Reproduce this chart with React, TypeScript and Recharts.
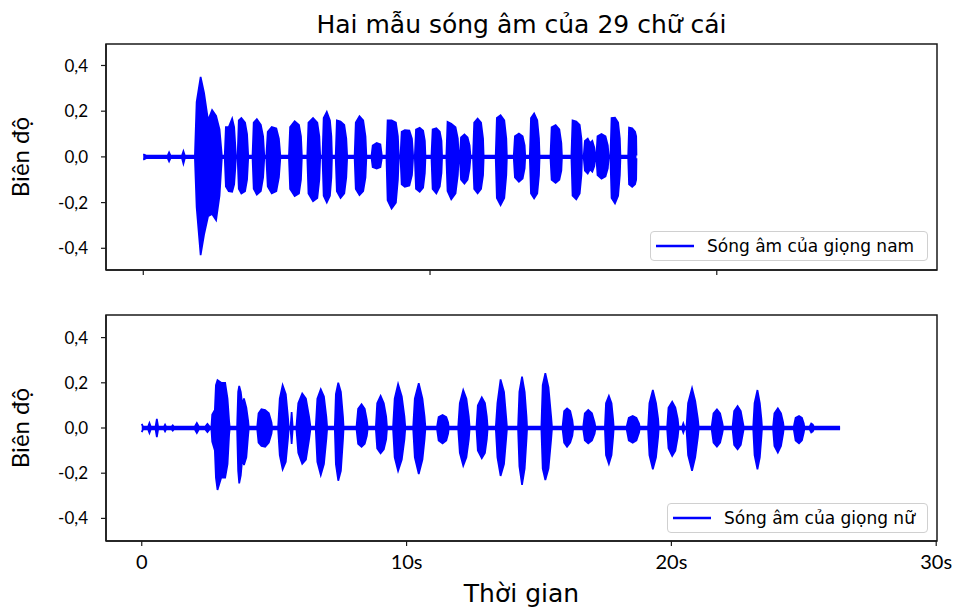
import React from 'react';
import { ComposedChart, Area, XAxis, YAxis, Legend, ReferenceArea } from 'recharts';

const chartTitle = 'Hai mẫu sóng âm của 29 chữ cái';
const yAxisTitle = 'Biên độ';
const xAxisTitle = 'Thời gian';
const maleName = 'Sóng âm của giọng nam';
const femaleName = 'Sóng âm của giọng nữ';

const yTickValues = [-0.4, -0.2, 0, 0.2, 0.4];
const yTickLabels = ['-0,4', '-0,2', '0,0', '0,2', '0,4'];
const maleXTicks = [0, 10, 20];
const femaleXTicks = [0, 10, 20, 30];
const femaleXTickLabels = ['0', '10s', '20s', '30s'];

// [time (s), upper envelope, lower envelope]
const maleWave: [number, number, number][] = [
  [0.0, 0.012, -0.012], [0.1, 0.006, -0.006],
  [0.85, 0.006, -0.006], [0.9, 0.02, -0.02], [0.95, 0.006, -0.006],
  [1.35, 0.006, -0.006], [1.4, 0.025, -0.03], [1.45, 0.006, -0.006],
  [1.8, 0.006, -0.006], [1.86, 0.24, -0.22], [2.0, 0.35, -0.43], [2.12, 0.28, -0.34], [2.26, 0.16, -0.26],
  [2.4, 0.205, -0.25], [2.54, 0.18, -0.277], [2.66, 0.12, -0.17], [2.74, 0.006, -0.006],
  [2.84, 0.006, -0.006], [2.88, 0.13, -0.13], [2.98, 0.13, -0.15], [3.1, 0.168, -0.153], [3.17, 0.13, -0.12], [3.21, 0.05, -0.05], [3.23, 0.006, -0.006],
  [3.29, 0.006, -0.006], [3.33, 0.16, -0.14], [3.42, 0.17, -0.16], [3.55, 0.15, -0.15], [3.62, 0.1, -0.1], [3.66, 0.006, -0.006],
  [3.81, 0.006, -0.006], [3.85, 0.15, -0.14], [3.96, 0.165, -0.165], [4.1, 0.14, -0.15], [4.18, 0.09, -0.09], [4.22, 0.006, -0.006],
  [4.29, 0.006, -0.006], [4.34, 0.11, -0.13], [4.48, 0.131, -0.16], [4.64, 0.125, -0.15], [4.73, 0.08, -0.09], [4.78, 0.006, -0.006],
  [5.08, 0.006, -0.006], [5.12, 0.13, -0.14], [5.28, 0.156, -0.172], [5.43, 0.14, -0.16], [5.5, 0.09, -0.1], [5.53, 0.006, -0.006],
  [5.72, 0.006, -0.006], [5.76, 0.15, -0.16], [5.92, 0.17, -0.194], [6.07, 0.15, -0.18], [6.14, 0.09, -0.1], [6.17, 0.006, -0.006],
  [6.25, 0.006, -0.006], [6.29, 0.17, -0.17], [6.4, 0.197, -0.2], [6.51, 0.16, -0.17], [6.56, 0.09, -0.09], [6.58, 0.006, -0.006],
  [6.71, 0.006, -0.006], [6.75, 0.16, -0.15], [6.88, 0.155, -0.18], [7.01, 0.14, -0.16], [7.08, 0.08, -0.09], [7.11, 0.006, -0.006],
  [7.37, 0.006, -0.006], [7.41, 0.15, -0.14], [7.54, 0.178, -0.167], [7.67, 0.16, -0.15], [7.75, 0.09, -0.09], [7.78, 0.006, -0.006],
  [7.96, 0.006, -0.006], [8.0, 0.05, -0.045], [8.14, 0.061, -0.051], [8.27, 0.055, -0.045], [8.32, 0.006, -0.006],
  [8.48, 0.006, -0.006], [8.52, 0.16, -0.19], [8.66, 0.16, -0.226], [8.81, 0.15, -0.2], [8.88, 0.09, -0.1], [8.91, 0.006, -0.006],
  [8.97, 0.006, -0.006], [9.01, 0.11, -0.12], [9.12, 0.117, -0.131], [9.28, 0.115, -0.125], [9.37, 0.08, -0.08], [9.41, 0.006, -0.006],
  [9.47, 0.006, -0.006], [9.51, 0.12, -0.14], [9.64, 0.128, -0.153], [9.76, 0.115, -0.135], [9.82, 0.07, -0.07], [9.84, 0.006, -0.006],
  [10.05, 0.006, -0.006], [10.09, 0.12, -0.14], [10.22, 0.125, -0.16], [10.34, 0.11, -0.13], [10.4, 0.07, -0.07], [10.42, 0.006, -0.006],
  [10.57, 0.006, -0.006], [10.61, 0.153, -0.15], [10.74, 0.145, -0.186], [10.89, 0.13, -0.16], [10.97, 0.08, -0.08], [11.0, 0.006, -0.006],
  [11.04, 0.006, -0.006], [11.08, 0.085, -0.1], [11.2, 0.098, -0.117], [11.31, 0.085, -0.1], [11.38, 0.05, -0.05], [11.41, 0.006, -0.006],
  [11.5, 0.006, -0.006], [11.54, 0.15, -0.14], [11.66, 0.168, -0.16], [11.78, 0.15, -0.14], [11.85, 0.08, -0.08], [11.87, 0.006, -0.006],
  [12.29, 0.006, -0.006], [12.33, 0.17, -0.18], [12.46, 0.182, -0.211], [12.59, 0.16, -0.18], [12.66, 0.08, -0.08], [12.68, 0.006, -0.006],
  [12.92, 0.006, -0.006], [12.96, 0.09, -0.09], [13.1, 0.102, -0.109], [13.23, 0.09, -0.095], [13.3, 0.05, -0.05], [13.32, 0.006, -0.006],
  [13.48, 0.006, -0.006], [13.52, 0.17, -0.16], [13.63, 0.19, -0.182], [13.74, 0.16, -0.16], [13.8, 0.08, -0.08], [13.82, 0.006, -0.006],
  [14.2, 0.006, -0.006], [14.24, 0.13, -0.1], [14.38, 0.139, -0.114], [14.51, 0.12, -0.1], [14.58, 0.06, -0.06], [14.6, 0.006, -0.006],
  [14.93, 0.006, -0.006], [14.97, 0.16, -0.17], [15.1, 0.155, -0.186], [15.22, 0.14, -0.16], [15.28, 0.08, -0.08], [15.3, 0.006, -0.006],
  [15.36, 0.006, -0.006], [15.4, 0.07, -0.06], [15.5, 0.08, -0.073], [15.58, 0.06, -0.055], [15.66, 0.07, -0.065], [15.73, 0.04, -0.04], [15.76, 0.006, -0.006],
  [15.8, 0.006, -0.006], [15.84, 0.09, -0.08], [15.98, 0.1, -0.095], [16.12, 0.09, -0.085], [16.2, 0.05, -0.05], [16.23, 0.006, -0.006],
  [16.29, 0.006, -0.006], [16.33, 0.17, -0.18], [16.45, 0.172, -0.204], [16.56, 0.15, -0.17], [16.62, 0.08, -0.08], [16.64, 0.006, -0.006],
  [16.91, 0.006, -0.006], [16.94, 0.128, -0.12], [17.05, 0.125, -0.131], [17.15, 0.11, -0.12], [17.19, 0.09, -0.1], [17.2, 0.006, -0.006],
];

const femaleWave: [number, number, number][] = [
  [0.0, 0.018, -0.018], [0.05, 0.006, -0.006],
  [0.24, 0.006, -0.006], [0.29, 0.022, -0.022], [0.34, 0.006, -0.006],
  [0.52, 0.006, -0.006], [0.57, 0.04, -0.04], [0.62, 0.006, -0.006],
  [0.84, 0.006, -0.006], [0.88, 0.015, -0.015], [0.92, 0.006, -0.006],
  [1.13, 0.006, -0.006], [1.17, 0.012, -0.012], [1.21, 0.006, -0.006],
  [2.0, 0.006, -0.006], [2.08, 0.022, -0.022], [2.16, 0.006, -0.006],
  [2.4, 0.006, -0.006], [2.48, 0.018, -0.018], [2.56, 0.006, -0.006],
  [2.63, 0.006, -0.006], [2.66, 0.06, -0.06], [2.76, 0.08, -0.1], [2.8, 0.19, -0.22], [2.86, 0.212, -0.274],
  [3.0, 0.2, -0.22], [3.15, 0.2, -0.22], [3.24, 0.13, -0.16], [3.3, 0.03, -0.03], [3.32, 0.006, -0.006],
  [3.6, 0.006, -0.006], [3.64, 0.16, -0.19], [3.68, 0.186, -0.245], [3.74, 0.16, -0.21], [3.8, 0.1, -0.13],
  [3.86, 0.131, -0.164], [3.95, 0.09, -0.13], [4.02, 0.03, -0.03], [4.04, 0.006, -0.006],
  [4.36, 0.006, -0.006], [4.41, 0.065, -0.065], [4.52, 0.083, -0.08], [4.66, 0.08, -0.083], [4.8, 0.065, -0.065], [4.9, 0.025, -0.025], [4.92, 0.006, -0.006],
  [5.15, 0.006, -0.006], [5.21, 0.13, -0.12], [5.32, 0.19, -0.183], [5.44, 0.15, -0.15], [5.52, 0.05, -0.05], [5.55, 0.006, -0.006],
  [5.62, 0.006, -0.006], [5.66, 0.07, -0.07], [5.7, 0.006, -0.006],
  [5.84, 0.006, -0.006], [5.91, 0.11, -0.11], [6.06, 0.153, -0.159], [6.2, 0.13, -0.14], [6.32, 0.05, -0.05], [6.37, 0.006, -0.006],
  [6.57, 0.006, -0.006], [6.63, 0.13, -0.15], [6.76, 0.171, -0.208], [6.88, 0.14, -0.16], [6.97, 0.05, -0.05], [7.0, 0.006, -0.006],
  [7.29, 0.006, -0.006], [7.33, 0.15, -0.16], [7.42, 0.2, -0.233], [7.52, 0.16, -0.19], [7.6, 0.05, -0.05], [7.62, 0.006, -0.006],
  [8.11, 0.006, -0.006], [8.17, 0.085, -0.07], [8.3, 0.105, -0.083], [8.42, 0.085, -0.07], [8.5, 0.035, -0.035], [8.53, 0.006, -0.006],
  [8.84, 0.006, -0.006], [8.89, 0.11, -0.09], [9.02, 0.142, -0.112], [9.14, 0.11, -0.095], [9.23, 0.05, -0.05], [9.26, 0.006, -0.006],
  [9.49, 0.006, -0.006], [9.55, 0.13, -0.13], [9.68, 0.195, -0.19], [9.82, 0.14, -0.14], [9.92, 0.05, -0.05], [9.95, 0.006, -0.006],
  [10.25, 0.006, -0.006], [10.31, 0.13, -0.13], [10.46, 0.198, -0.204], [10.6, 0.13, -0.14], [10.68, 0.05, -0.05], [10.71, 0.006, -0.006],
  [11.15, 0.006, -0.006], [11.21, 0.048, -0.055], [11.36, 0.058, -0.068], [11.5, 0.048, -0.055], [11.57, 0.025, -0.025], [11.59, 0.006, -0.006],
  [11.95, 0.006, -0.006], [12.01, 0.11, -0.11], [12.14, 0.168, -0.167], [12.26, 0.13, -0.13], [12.35, 0.05, -0.05], [12.38, 0.006, -0.006],
  [12.64, 0.006, -0.006], [12.69, 0.1, -0.1], [12.84, 0.136, -0.134], [12.96, 0.11, -0.11], [13.03, 0.05, -0.05], [13.06, 0.006, -0.006],
  [13.37, 0.006, -0.006], [13.43, 0.11, -0.13], [13.55, 0.215, -0.212], [13.68, 0.16, -0.16], [13.76, 0.05, -0.05], [13.79, 0.006, -0.006],
  [14.21, 0.006, -0.006], [14.26, 0.16, -0.17], [14.36, 0.227, -0.252], [14.46, 0.16, -0.18], [14.53, 0.05, -0.05], [14.55, 0.006, -0.006],
  [15.09, 0.006, -0.006], [15.14, 0.19, -0.18], [15.24, 0.242, -0.23], [15.36, 0.18, -0.18], [15.46, 0.05, -0.05], [15.49, 0.006, -0.006],
  [15.89, 0.006, -0.006], [15.95, 0.075, -0.065], [16.06, 0.087, -0.083], [16.18, 0.075, -0.065], [16.26, 0.035, -0.035], [16.29, 0.006, -0.006],
  [16.67, 0.006, -0.006], [16.73, 0.065, -0.055], [16.86, 0.08, -0.068], [17.0, 0.065, -0.055], [17.1, 0.025, -0.025], [17.13, 0.006, -0.006],
  [17.49, 0.006, -0.006], [17.53, 0.11, -0.12], [17.64, 0.142, -0.159], [17.74, 0.11, -0.12], [17.8, 0.04, -0.04], [17.82, 0.006, -0.006],
  [18.31, 0.006, -0.006], [18.39, 0.045, -0.055], [18.54, 0.053, -0.065], [18.68, 0.045, -0.055], [18.78, 0.02, -0.02], [18.8, 0.006, -0.006],
  [19.12, 0.006, -0.006], [19.17, 0.11, -0.12], [19.3, 0.168, -0.183], [19.42, 0.11, -0.13], [19.5, 0.04, -0.04], [19.52, 0.006, -0.006],
  [19.84, 0.006, -0.006], [19.89, 0.09, -0.09], [20.03, 0.116, -0.124], [20.15, 0.09, -0.1], [20.24, 0.04, -0.04], [20.27, 0.006, -0.006],
  [20.41, 0.006, -0.006], [20.45, 0.02, -0.02], [20.49, 0.006, -0.006],
  [20.57, 0.006, -0.006], [20.63, 0.11, -0.12], [20.78, 0.176, -0.189], [20.9, 0.12, -0.13], [21.0, 0.04, -0.04], [21.03, 0.006, -0.006],
  [21.52, 0.006, -0.006], [21.59, 0.065, -0.065], [21.72, 0.083, -0.083], [21.84, 0.065, -0.065], [21.92, 0.025, -0.025], [21.95, 0.006, -0.006],
  [22.31, 0.006, -0.006], [22.37, 0.075, -0.075], [22.5, 0.097, -0.094], [22.62, 0.075, -0.075], [22.7, 0.025, -0.025], [22.73, 0.006, -0.006],
  [23.09, 0.006, -0.006], [23.14, 0.11, -0.12], [23.25, 0.168, -0.183], [23.34, 0.11, -0.13], [23.4, 0.04, -0.04], [23.42, 0.006, -0.006],
  [23.84, 0.006, -0.006], [23.89, 0.065, -0.08], [24.02, 0.087, -0.109], [24.14, 0.065, -0.08], [24.22, 0.025, -0.025], [24.24, 0.006, -0.006],
  [24.62, 0.006, -0.006], [24.69, 0.045, -0.055], [24.82, 0.053, -0.068], [24.93, 0.045, -0.055], [25.0, 0.02, -0.02], [25.02, 0.006, -0.006],
  [25.22, 0.006, -0.006], [25.28, 0.02, -0.02], [25.34, 0.015, -0.015], [25.38, 0.006, -0.006],
  [26.37, 0.006, -0.006],
];

const BLUE = '#0000ff';
const SPINE = '#1a1a1a';

function yLabelFor(v: number) {
  const i = yTickValues.findIndex((t) => Math.abs(t - v) < 1e-9);
  return i >= 0 ? yTickLabels[i] : '';
}

function renderYTitle(props: any) {
  const vb = props.viewBox || { x: 0, y: 44, width: 106, height: 226 };
  const cy = vb.y + vb.height / 2;
  const x = 29;
  return (
    <text x={x} y={cy} transform={`rotate(-90 ${x} ${cy})`} textAnchor="middle"
      fontFamily="Lato, 'DejaVu Sans', sans-serif" fontSize={24} fill="#000">
      {yAxisTitle}
    </text>
  );
}

function renderXTitle(props: any) {
  const vb = props.viewBox || { x: 106, y: 270, width: 831, height: 67 };
  return (
    <text x={vb.x + vb.width / 2} y={vb.y + 61} textAnchor="middle"
      fontFamily="'DejaVu Sans', sans-serif" fontSize={25} fill="#000">
      {xAxisTitle}
    </text>
  );
}

type PanelProps = {
  rows: [number, number, number][];
  name: string;
  top: number;
  height: number;
  xAxisHeight: number;
  xDomain: [number, number];
  yDomain: [number, number];
  xTicks: number[];
  xTickLabels: string[] | null;
  legend: { left: number; top: number; width: number };
};

function LegendBox({ text, width }: { text: string; width: number }) {
  return (
    <div style={{
      boxSizing: 'border-box', width, height: 30, border: '1px solid #d0d0d0', borderRadius: 4,
      background: '#fff', display: 'flex', alignItems: 'center', paddingLeft: 5,
    }}>
      <svg width={38} height={6} style={{ display: 'block' }}>
        <line x1={0} y1={3} x2={38} y2={3} stroke={BLUE} strokeWidth={2.5} />
      </svg>
      <span style={{ marginLeft: 13, fontFamily: "'DejaVu Sans', sans-serif", fontSize: 17, color: '#000', whiteSpace: 'nowrap', lineHeight: '20px' }}>
        {text}
      </span>
    </div>
  );
}

function Panel(p: PanelProps) {
  const data = p.rows.map(([t, hi, lo]) => ({ t, range: [lo, hi] }));
  const xFmt = (v: number) => {
    if (!p.xTickLabels) return '';
    const i = p.xTicks.indexOf(v);
    return i >= 0 ? p.xTickLabels[i] : '';
  };
  return (
    <div style={{ position: 'absolute', left: 0, top: p.top }}>
      <ComposedChart width={954} height={p.height} data={data}
        margin={{ top: 44, right: 17, bottom: 0, left: 0 }}>
        <XAxis dataKey="t" type="number" domain={p.xDomain} allowDataOverflow ticks={p.xTicks} interval={0}
          tickFormatter={xFmt} height={p.xAxisHeight} tickSize={5} tickMargin={9}
          axisLine={{ stroke: SPINE, strokeWidth: 1.5 }} tickLine={{ stroke: SPINE, strokeWidth: 1.2 }}
          tick={{ fill: '#000', fontSize: 20, fontFamily: 'Lato, sans-serif' }}
          label={p.xTickLabels ? renderXTitle : undefined} />
        <YAxis type="number" domain={p.yDomain} allowDataOverflow ticks={yTickValues} interval={0}
          tickFormatter={yLabelFor} width={106} tickSize={5} tickMargin={13}
          axisLine={{ stroke: SPINE, strokeWidth: 1.5 }} tickLine={{ stroke: SPINE, strokeWidth: 1.2 }}
          tick={{ fill: '#000', fontSize: 17, fontFamily: 'Lato, sans-serif' }}
          label={renderYTitle} />
        <ReferenceArea x1={p.xDomain[0]} x2={p.xDomain[1]} y1={p.yDomain[0]} y2={p.yDomain[1]}
          fill="none" fillOpacity={0} stroke={SPINE} strokeWidth={1.5} ifOverflow="visible" />
        <Area type="linear" dataKey="range" name={p.name} stroke={BLUE} strokeWidth={1.7}
          fill={BLUE} fillOpacity={1} isAnimationActive={false} dot={false} activeDot={false} />
        <Legend verticalAlign="middle" align="center" layout="horizontal"
          wrapperStyle={{ left: p.legend.left, top: p.legend.top, width: p.legend.width, height: 30 }}
          content={(lp: any) => (
            <LegendBox text={(lp && lp.payload && lp.payload[0] && lp.payload[0].value) || p.name} width={p.legend.width} />
          )} />
      </ComposedChart>
    </div>
  );
}

export default function App() {
  return (
    <div style={{ position: 'absolute', left: 0, top: 0, width: 954, height: 608, background: '#fff', overflow: 'hidden' }}>
      <svg width={954} height={44} style={{ position: 'absolute', left: 0, top: 0 }}>
        <text x={521.5} y={33} textAnchor="middle" fontFamily="'DejaVu Sans', sans-serif" fontSize={25} fill="#000">
          {chartTitle}
        </text>
      </svg>
      <Panel rows={maleWave} name={maleName} top={0} height={300} xAxisHeight={30}
        xDomain={[-1.3, 27.68]} yDomain={[-0.495, 0.494]} xTicks={maleXTicks} xTickLabels={null}
        legend={{ left: 650, top: 231, width: 278 }} />
      <Panel rows={femaleWave} name={femaleName} top={271} height={337} xAxisHeight={67}
        xDomain={[-1.35, 30.03]} yDomain={[-0.5, 0.5]} xTicks={femaleXTicks} xTickLabels={femaleXTickLabels}
        legend={{ left: 667, top: 232, width: 261 }} />
    </div>
  );
}
